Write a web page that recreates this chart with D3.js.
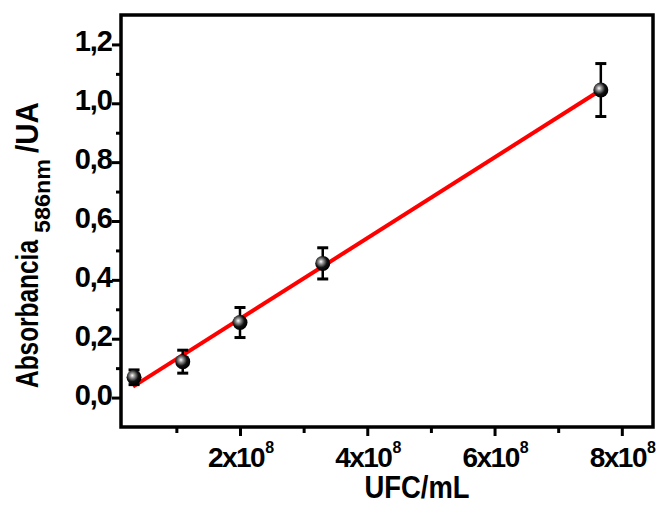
<!DOCTYPE html>
<html>
<head>
<meta charset="utf-8">
<script src="https://cdn.jsdelivr.net/npm/d3@7"></script>
<style>
  body { margin: 0; background: #fff; }
  svg { display: block; }
</style>
</head>
<body>
<svg id="chart"></svg>
<script>
// values
var ufc = [3.35e7, 1.10e8, 2.0e8, 3.30e8, 7.67e8];
var absorb = [0.069, 0.122, 0.255, 0.456, 1.045];
var absErr = [0.025, 0.039, 0.051, 0.053, 0.09];
// fitted line endpoints (x, y)
var fitX = [3.19e7, 7.67e8];
var fitY = [0.037, 1.045];

var xTickVals = [2e8, 4e8, 6e8, 8e8];
var xTickLabels = ["2x10", "4x10", "6x10", "8x10"];
var xMinorVals = [1e8, 3e8, 5e8, 7e8];
var yTickVals = [0, 0.2, 0.4, 0.6, 0.8, 1.0, 1.2];
var yTickLabels = ["0,0", "0,2", "0,4", "0,6", "0,8", "1,0", "1,2"];
var yMinorVals = [0.1, 0.3, 0.5, 0.7, 0.9, 1.1];

var width = 657, height = 505;
var margin = {top: 15, right: 4, bottom: 78, left: 121};

var svg = d3.select("#chart")
  .attr("width", width)
  .attr("height", height);

var x = d3.scaleLinear()
  .domain([1.3e7, 8.49e8])
  .range([margin.left, width - margin.right]);

var y = d3.scaleLinear()
  .domain([-0.1, 1.3])
  .range([height - margin.bottom, margin.top]);

var font = "'Liberation Sans', Arial, sans-serif";

// axes: major + minor ticks
function styleAxis(g) {
  g.select(".domain").remove();
  g.selectAll(".tick line").attr("stroke", "#000").attr("stroke-width", 3);
  g.selectAll(".tick text").remove();
}

svg.append("g")
  .attr("transform", "translate(0," + y.range()[0] + ")")
  .call(d3.axisBottom(x).tickValues(xTickVals).tickSize(9))
  .call(styleAxis);
svg.append("g")
  .attr("transform", "translate(0," + y.range()[0] + ")")
  .call(d3.axisBottom(x).tickValues(xMinorVals).tickSize(6))
  .call(styleAxis);

svg.append("g")
  .attr("transform", "translate(" + x.range()[0] + ",0)")
  .call(d3.axisLeft(y).tickValues(yTickVals).tickSize(9))
  .call(styleAxis);
svg.append("g")
  .attr("transform", "translate(" + x.range()[0] + ",0)")
  .call(d3.axisLeft(y).tickValues(yMinorVals).tickSize(5))
  .call(styleAxis);

// frame
svg.append("rect")
  .attr("x", x.range()[0])
  .attr("y", y.range()[1])
  .attr("width", x.range()[1] - x.range()[0])
  .attr("height", y.range()[0] - y.range()[1])
  .attr("fill", "none")
  .attr("stroke", "#000")
  .attr("stroke-width", 3.5);

// y tick labels
svg.selectAll(".ylab")
  .data(yTickVals)
  .enter().append("text")
  .attr("x", x.range()[0] - 9)
  .attr("y", function(d) { return y(d) + 7; })
  .attr("text-anchor", "end")
  .attr("font-family", font)
  .attr("font-weight", 700)
  .attr("font-size", 29)
  .attr("letter-spacing", -1)
  .text(function(d, i) { return yTickLabels[i]; });

// x tick labels with superscript
var xl = svg.selectAll(".xlab")
  .data(xTickVals)
  .enter().append("text")
  .attr("x", function(d) { return x(d) + 1; })
  .attr("y", y.range()[0] + 40)
  .attr("text-anchor", "middle")
  .attr("font-family", font)
  .attr("font-weight", 700)
  .attr("font-size", 28)
  .attr("letter-spacing", -1.5);
xl.append("tspan").text(function(d, i) { return xTickLabels[i]; });
xl.append("tspan")
  .attr("dy", -14)
  .attr("dx", 1)
  .attr("font-size", 16)
  .attr("letter-spacing", 0)
  .text("8");

// axis titles
svg.append("text")
  .attr("x", 417)
  .attr("y", height - 7)
  .attr("text-anchor", "middle")
  .attr("font-family", font)
  .attr("font-weight", 700)
  .attr("font-size", 32)
  .attr("textLength", 105)
  .attr("lengthAdjust", "spacingAndGlyphs")
  .text("UFC/mL");

var yTitle = [
  {t: "Absorbancia", at: 388, bx: 38, size: 31, len: 148},
  {t: "586nm", at: 233, bx: 50, size: 22, len: 74},
  {t: "/UA", at: 153, bx: 38, size: 31, len: 51}
];
svg.selectAll(".ytitle").data(yTitle).enter().append("text")
  .attr("transform", function(d) { return "translate(" + d.bx + "," + d.at + ") rotate(-90)"; })
  .attr("font-family", font)
  .attr("font-weight", 700)
  .attr("font-size", function(d) { return d.size; })
  .attr("textLength", function(d) { return d.len; })
  .attr("lengthAdjust", "spacingAndGlyphs")
  .text(function(d) { return d.t; });

// fit line
var fitData = fitX.map(function(d, i) { return [d, fitY[i]]; });
svg.append("path")
  .datum(fitData)
  .attr("fill", "none")
  .attr("stroke", "#ff0000")
  .attr("stroke-width", 4)
  .attr("d", d3.line().x(function(d) { return x(d[0]); }).y(function(d) { return y(d[1]); }));

// error bars
var pts = ufc.map(function(d, i) { return {x: d, y: absorb[i], e: absErr[i]}; });
var eb = svg.selectAll(".err").data(pts).enter().append("g");
eb.append("line")
  .attr("x1", function(d) { return x(d.x); })
  .attr("x2", function(d) { return x(d.x); })
  .attr("y1", function(d) { return y(d.y - d.e); })
  .attr("y2", function(d) { return y(d.y + d.e); })
  .attr("stroke", "#000").attr("stroke-width", 2.5);
[-1, 1].forEach(function(s) {
  eb.append("line")
    .attr("x1", function(d) { return x(d.x) - 5.5; })
    .attr("x2", function(d) { return x(d.x) + 5.5; })
    .attr("y1", function(d) { return y(d.y + s * d.e); })
    .attr("y2", function(d) { return y(d.y + s * d.e); })
    .attr("stroke", "#000").attr("stroke-width", 3);
});

// shaded ball markers
var grad = svg.append("defs").append("radialGradient")
  .attr("id", "ball")
  .attr("cx", "40%").attr("cy", "40%").attr("r", "60%")
  .attr("fx", "38%").attr("fy", "38%");
grad.append("stop").attr("offset", "0%").attr("stop-color", "#ffffff");
grad.append("stop").attr("offset", "25%").attr("stop-color", "#999");
grad.append("stop").attr("offset", "65%").attr("stop-color", "#111");
grad.append("stop").attr("offset", "100%").attr("stop-color", "#000");

svg.selectAll(".pt").data(pts).enter().append("circle")
  .attr("cx", function(d) { return x(d.x); })
  .attr("cy", function(d) { return y(d.y); })
  .attr("r", 7.5)
  .attr("fill", "url(#ball)");
</script>
</body>
</html>
